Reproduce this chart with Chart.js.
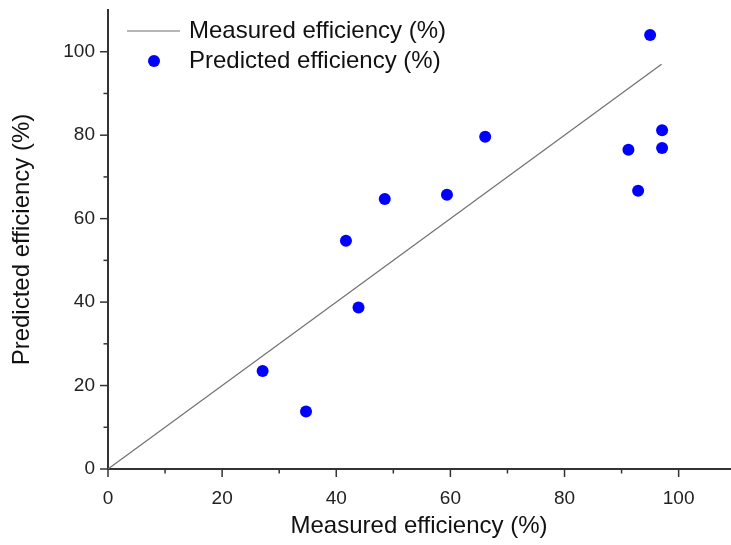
<!DOCTYPE html>
<html>
<head>
<meta charset="utf-8">
<script src="https://cdn.jsdelivr.net/npm/chart.js@4/dist/chart.umd.min.js"></script>
<style>
  html, body { margin: 0; padding: 0; background: #fff; }
  #wrap { width: 731px; height: 545px; }
</style>
</head>
<body>
<div id="wrap"><canvas id="chart" width="731" height="545"></canvas></div>
<script>
// y = x reference line
const lineX = [0, 97];
const lineY = [0, 97];

// model predictions vs measurements
const measured  = [27.1, 34.7, 41.7, 43.9, 48.5, 59.4, 66.1, 91.2, 92.9, 95.0, 97.1, 97.1];
const predicted = [23.5, 13.8, 54.7, 38.7, 64.7, 65.7, 79.6, 76.5, 66.7, 104.0, 81.2, 76.9];

const majorTicks = [0, 20, 40, 60, 80, 100];
const minorTicks = [10, 30, 50, 70, 90];

const FONT = "'Liberation Sans', Arial, sans-serif";
const AXIS = '#333';

// outward tick marks, long on labelled values and short in between
const tickMarks = {
  id: 'tickMarks',
  afterDraw(chart) {
    const { ctx, chartArea: a, scales: { x, y } } = chart;
    ctx.save();
    ctx.strokeStyle = AXIS;
    ctx.lineWidth = 1.5;
    const mark = (vals, len) => {
      vals.forEach(v => {
        const px = x.getPixelForValue(v);
        ctx.beginPath(); ctx.moveTo(px, a.bottom); ctx.lineTo(px, a.bottom + len); ctx.stroke();
        const py = y.getPixelForValue(v);
        ctx.beginPath(); ctx.moveTo(a.left, py); ctx.lineTo(a.left - len, py); ctx.stroke();
      });
    };
    mark(majorTicks, 8);
    mark(minorTicks, 4.5);
    ctx.restore();
  }
};

// legend inside the plot, upper left
const insideLegend = {
  id: 'insideLegend',
  afterDraw(chart) {
    const { ctx } = chart;
    const ds = chart.data.datasets;
    ctx.save();
    ctx.font = '24px ' + FONT;
    ctx.fillStyle = '#111';
    ctx.textBaseline = 'middle';
    ctx.strokeStyle = ds[0].borderColor;
    ctx.lineWidth = ds[0].borderWidth;
    ctx.beginPath(); ctx.moveTo(127, 31); ctx.lineTo(180, 31); ctx.stroke();
    ctx.fillText(ds[0].label, 189, 31);
    ctx.fillStyle = ds[1].backgroundColor;
    ctx.beginPath(); ctx.arc(154, 61, ds[1].pointRadius, 0, Math.PI * 2); ctx.fill();
    ctx.fillStyle = '#111';
    ctx.fillText(ds[1].label, 189, 61);
    ctx.restore();
  }
};

new Chart(document.getElementById('chart'), {
  type: 'scatter',
  data: {
    datasets: [
      {
        label: 'Measured efficiency (%)',
        type: 'line',
        data: lineX.map((v, i) => ({ x: v, y: lineY[i] })),
        borderColor: '#707070',
        borderWidth: 1.2,
        pointRadius: 0,
        fill: false
      },
      {
        label: 'Predicted efficiency (%)',
        data: measured.map((v, i) => ({ x: v, y: predicted[i] })),
        backgroundColor: '#0000ff',
        borderColor: '#0000ff',
        pointRadius: 6,
        pointBorderWidth: 0
      }
    ]
  },
  options: {
    responsive: false,
    animation: false,
    layout: { autoPadding: false, padding: { top: 10, right: 1, left: 0, bottom: 0 } },
    plugins: { legend: { display: false }, tooltip: { enabled: false } },
    scales: {
      x: {
        type: 'linear',
        min: 0, max: 109,
        afterFit(s) { s.height = 76; s.paddingLeft = 0; s.paddingRight = 0; },
        afterBuildTicks(s) { s.ticks = majorTicks.map(v => ({ value: v })); },
        grid: { display: false },
        border: { display: true, color: AXIS, width: 2 },
        ticks: { color: '#222', font: { family: FONT, size: 19 }, padding: 10, maxRotation: 0 },
        title: { display: true, text: 'Measured efficiency (%)', color: '#111',
                 font: { family: FONT, size: 24 }, padding: { top: 12 } }
      },
      y: {
        type: 'linear',
        min: 0, max: 110,
        afterFit(s) { s.width = 108; s.paddingTop = 0; s.paddingBottom = 0; },
        afterBuildTicks(s) { s.ticks = majorTicks.map(v => ({ value: v })); },
        grid: { display: false },
        border: { display: true, color: AXIS, width: 2 },
        ticks: { color: '#222', font: { family: FONT, size: 19 }, padding: 5 },
        title: { display: true, text: 'Predicted efficiency (%)', color: '#111',
                 font: { family: FONT, size: 24 }, padding: { top: 8, bottom: 0 } }
      }
    }
  },
  plugins: [tickMarks, insideLegend]
});
</script>
</body>
</html>
